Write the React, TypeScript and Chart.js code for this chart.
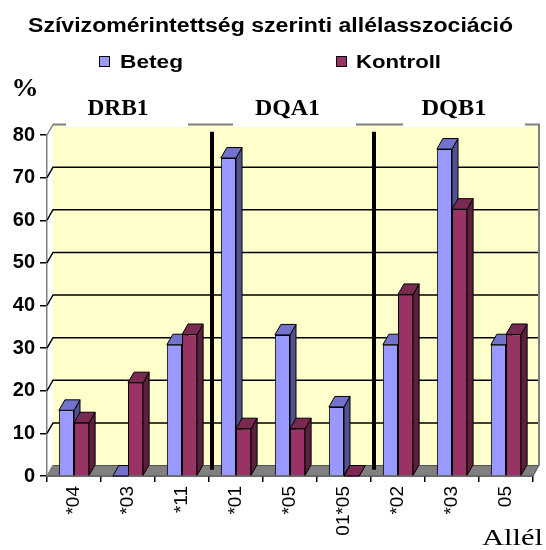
import React, { useEffect, useRef } from "react";
import { Chart, registerables } from "chart.js";

Chart.register(...registerables);

const categories = ["*04", "*03", "*11", "*01", "*05", "01*05", "*02", "*03", "05"];
const betegValues = [15.4, 0, 30.8, 74.6, 33.1, 16.2, 30.8, 76.7, 30.8];
const kontrollValues = [12.5, 21.9, 33.2, 11.1, 11.1, 0, 42.6, 62.6, 33.2];
const groupLabels = ["DRB1", "DQA1", "DQB1"];
const seriesNames = ["Beteg", "Kontroll"];
const titleText = "Szívizomérintettség szerinti allélasszociáció";
const yUnit = "%";
const xTitle = "Allél";

const FRONT = ["#9999FF", "#993366"];
const TOP = ["#7373CC", "#7A2952"];
const SIDE = ["#52528F", "#5C1F3D"];
const DX = 6;
const DY = -10.5;

function fitText(ctx: CanvasRenderingContext2D, text: string, x0: number, x1: number, baseline: number, font: string) {
  ctx.save();
  ctx.font = font;
  const w = ctx.measureText(text).width;
  const s = (x1 - x0) / w;
  ctx.translate(x0, baseline);
  ctx.scale(s, 1);
  ctx.textAlign = "left";
  ctx.textBaseline = "alphabetic";
  ctx.fillStyle = "#000";
  ctx.fillText(text, 0, 0);
  ctx.restore();
}

function poly(ctx: CanvasRenderingContext2D, pts: number[][], fill: string, stroke: string, lw = 1) {
  ctx.beginPath();
  ctx.moveTo(pts[0][0], pts[0][1]);
  for (let i = 1; i < pts.length; i++) ctx.lineTo(pts[i][0], pts[i][1]);
  ctx.closePath();
  if (fill) {
    ctx.fillStyle = fill;
    ctx.fill();
  }
  if (stroke) {
    ctx.strokeStyle = stroke;
    ctx.lineWidth = lw;
    ctx.stroke();
  }
}

const excel3d = {
  id: "excel3d",
  beforeDatasetsDraw(chart: any) {
    const ctx: CanvasRenderingContext2D = chart.ctx;
    const { left, right, top, bottom } = chart.chartArea;
    const yScale = chart.scales.y;
    const xScale = chart.scales.x;
    ctx.save();
    // back wall
    ctx.fillStyle = "#FFFFCC";
    ctx.fillRect(left + DX, top + DY, right - left, bottom - top);
    // floor
    poly(ctx, [[left, bottom], [right, bottom], [right + DX, bottom + DY], [left + DX, bottom + DY]], "#808080", "#555", 1);
    // gridlines
    for (let v = 0; v <= 80; v += 10) {
      const y = yScale.getPixelForValue(v);
      ctx.beginPath();
      ctx.moveTo(left, y);
      ctx.lineTo(left + DX, y + DY);
      if (v > 0 && v < 80) ctx.lineTo(right + DX, y + DY);
      ctx.strokeStyle = v === 80 || v === 0 ? "#808080" : "#000";
      ctx.lineWidth = 1.5;
      ctx.stroke();
    }
    // top and right edges of back wall
    ctx.beginPath();
    ctx.moveTo(left + DX, top + DY);
    ctx.lineTo(right + DX, top + DY);
    ctx.lineTo(right + DX, bottom + DY);
    ctx.strokeStyle = "#808080";
    ctx.lineWidth = 2;
    ctx.stroke();
    // group separators
    const step = (xScale.getPixelForValue(1) - xScale.getPixelForValue(0));
    [2, 5].forEach((i) => {
      const bx = xScale.getPixelForValue(i) + step / 2 + DX * 0.5;
      ctx.beginPath();
      ctx.moveTo(bx, top + DY * 0.3);
      ctx.lineTo(bx, bottom + DY * 0.6);
      ctx.strokeStyle = "#000";
      ctx.lineWidth = 4;
      ctx.stroke();
    });
    // 3D sides and tops of bars
    const metas = [chart.getDatasetMeta(0), chart.getDatasetMeta(1)];
    for (let i = 0; i < categories.length; i++) {
      for (let d = 0; d < 2; d++) {
        const el = metas[d].data[i];
        const w = el.width;
        const x1 = el.x - w / 2;
        const x2 = el.x + w / 2;
        const y = el.y;
        const base = el.base;
        poly(ctx, [[x2, y], [x2 + DX, y + DY], [x2 + DX, base + DY], [x2, base]], SIDE[d], "#000", 1);
        poly(ctx, [[x1, y], [x2, y], [x2 + DX, y + DY], [x1 + DX, y + DY]], TOP[d], "#000", 1);
      }
    }
    ctx.restore();
  },
  afterDraw(chart: any) {
    const ctx: CanvasRenderingContext2D = chart.ctx;
    ctx.save();
    // white label boxes covering top edge
    ctx.fillStyle = "#fff";
    [[66, 188], [233, 356], [403, 525]].forEach(([a, b]) => ctx.fillRect(a, 86, b - a, 41));
    // title
    fitText(ctx, titleText, 28, 513, 31.5, "bold 20px Arial, 'Liberation Sans', sans-serif");
    // legend
    const lx = [[99, 120, 183], [336, 356, 441]];
    for (let d = 0; d < 2; d++) {
      ctx.fillStyle = FRONT[d];
      ctx.fillRect(lx[d][0], 56, 11, 11);
      ctx.strokeStyle = "#000";
      ctx.lineWidth = 1;
      ctx.strokeRect(lx[d][0] + 0.5, 56.5, 10, 10);
      fitText(ctx, seriesNames[d], lx[d][1], lx[d][2], 67.5, "bold 19px Arial, 'Liberation Sans', sans-serif");
    }
    // % unit
    fitText(ctx, yUnit, 11.5, 38.5, 96, "bold 26px 'Times New Roman', 'Liberation Serif', serif");
    // group labels
    const gx = [[87.5, 148.5], [255, 320], [421.5, 486.5]];
    groupLabels.forEach((g, k) => fitText(ctx, g, gx[k][0], gx[k][1], 115, "bold 24px 'Times New Roman', 'Liberation Serif', serif"));
    // x title
    fitText(ctx, xTitle, 482, 543, 545, "24px 'Times New Roman', 'Liberation Serif', serif");
    ctx.restore();
  },
};

export default function App() {
  const ref = useRef<HTMLCanvasElement>(null);
  useEffect(() => {
    document.body.style.margin = "0";
    const chart = new Chart(ref.current!, {
      type: "bar",
      data: {
        labels: categories,
        datasets: [
          { label: seriesNames[0], data: betegValues, backgroundColor: FRONT[0], borderColor: "#000", borderWidth: 1, categoryPercentage: 0.56, barPercentage: 1 },
          { label: seriesNames[1], data: kontrollValues, backgroundColor: FRONT[1], borderColor: "#000", borderWidth: 1, categoryPercentage: 0.56, barPercentage: 1 },
        ],
      },
      options: {
        responsive: false,
        animation: false,
        devicePixelRatio: 1,
        layout: { padding: { top: 135, right: 13, left: 0, bottom: 0 } },
        plugins: { legend: { display: false }, tooltip: { enabled: false }, title: { display: false } },
        scales: {
          x: {
            afterFit: (s: any) => { s.height = 74; },
            grid: { display: true, offset: true, drawOnChartArea: false, drawTicks: true, tickLength: 6, color: "#000", lineWidth: 1.5 },
            border: { display: true, color: "#000", width: 1.5 },
            ticks: { minRotation: 90, maxRotation: 90, autoSkip: false, padding: 4, color: "#000", font: { family: "Arial, 'Liberation Sans', sans-serif", size: 19 } },
          },
          y: {
            min: 0,
            max: 80,
            afterFit: (s: any) => { s.width = 47; },
            grid: { display: true, drawOnChartArea: false, drawTicks: true, tickLength: 7, color: "#000", lineWidth: 1.5 },
            border: { display: true, color: "#808080", width: 1.5 },
            ticks: { stepSize: 10, padding: 5, color: "#000", font: { family: "Arial, 'Liberation Sans', sans-serif", size: 20, weight: "bold" } },
          },
        },
      },
      plugins: [excel3d],
    } as any);
    return () => chart.destroy();
  }, []);
  return <canvas ref={ref} width={546} height={550} style={{ display: "block" }} />;
}
